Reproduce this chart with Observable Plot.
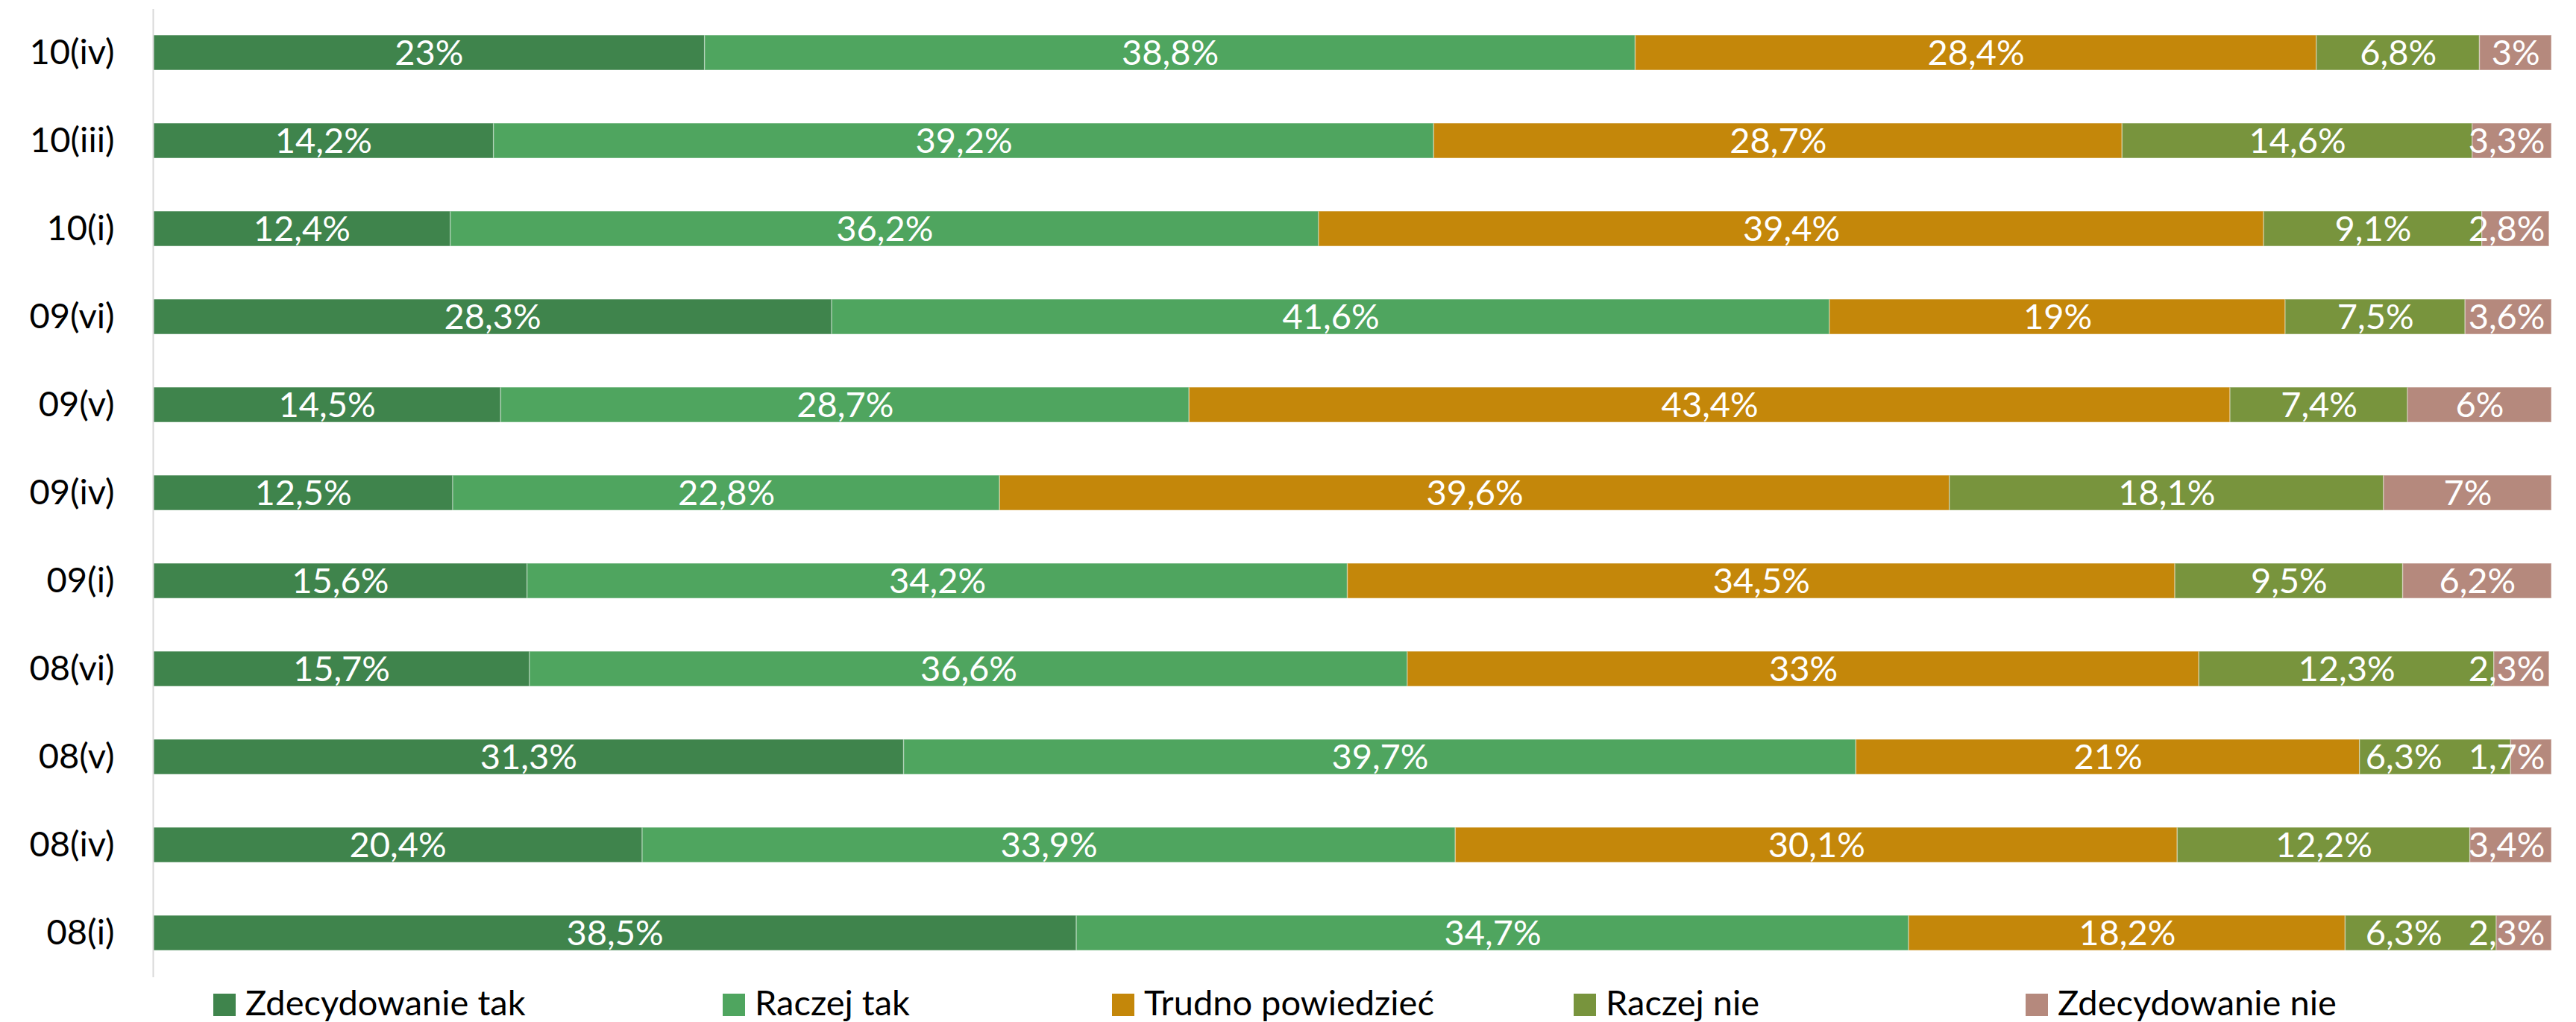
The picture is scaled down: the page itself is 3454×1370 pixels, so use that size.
<!DOCTYPE html>
<html>
<head>
<meta charset="utf-8">
<script src="https://cdn.jsdelivr.net/npm/d3@7"></script>
<script src="https://cdn.jsdelivr.net/npm/@observablehq/plot@0.6"></script>
<style>
  html, body { margin: 0; padding: 0; background: #fff; }
  body { position: relative; width: 3454px; height: 1370px; overflow: hidden; font-family: Lato, "Noto Sans", sans-serif; }
  #chart svg { display: block; }
  #legend { position: absolute; left: 0; top: 1320px; display: flex; align-items: flex-start; padding-left: 286px; font-size: 47px; line-height: 47px; color: #000; white-space: nowrap; }
  .item { display: flex; align-items: flex-start; }
  .sw { width: 30px; height: 30px; margin-top: 12px; margin-right: 13px; flex: none; }
</style>
</head>
<body>
<div id="chart"></div>
<div id="legend"></div>
<script>
// Periods (top to bottom)
const periods = ["10(iv)", "10(iii)", "10(i)", "09(vi)", "09(v)", "09(iv)", "09(i)", "08(vi)", "08(v)", "08(iv)", "08(i)"];
// Answer categories (left to right)
const categories = ["Zdecydowanie tak", "Raczej tak", "Trudno powiedzieć", "Raczej nie", "Zdecydowanie nie"];
const colors = ["#3f844c", "#4fa55f", "#c4870a", "#78943d", "#b5897d"];

// Series values (%), one per period
const zdecydowanieTak = [23, 14.2, 12.4, 28.3, 14.5, 12.5, 15.6, 15.7, 31.3, 20.4, 38.5];
const raczejTak       = [38.8, 39.2, 36.2, 41.6, 28.7, 22.8, 34.2, 36.6, 39.7, 33.9, 34.7];
const trudno          = [28.4, 28.7, 39.4, 19, 43.4, 39.6, 34.5, 33, 21, 30.1, 18.2];
const raczejNie       = [6.8, 14.6, 9.1, 7.5, 7.4, 18.1, 9.5, 12.3, 6.3, 12.2, 6.3];
const zdecydowanieNie = [3, 3.3, 2.8, 3.6, 6, 7, 6.2, 2.3, 1.7, 3.4, 2.3];

const series = [zdecydowanieTak, raczejTak, trudno, raczejNie, zdecydowanieNie];
const data = [];
periods.forEach((p, i) => {
  categories.forEach((c, j) => data.push({period: p, category: c, value: series[j][i]}));
});
const fmt = v => String(v).replace(".", ",") + "%";

// Layout constants
const W = 3454, H = 1312, ML = 205, MR = 33, FS = 47;
const FONT = "Lato, 'Noto Sans', sans-serif";
const pxPerUnit = (W - ML - MR) / 100;

// Label placement: centered in segment, kept inside the plot and not overlapping neighbours
const ctx = document.createElement("canvas").getContext("2d");
ctx.font = `${FS}px Lato`;
const labels = [];
periods.forEach(p => {
  const row = data.filter(d => d.period === p);
  let start = 0;
  const items = row.map(d => {
    const text = fmt(d.value);
    const w = ctx.measureText(text).width / pxPerUnit;
    const it = {period: p, text, x: start + d.value / 2, w};
    start += d.value;
    return it;
  });
  const edgePad = 9 / pxPerUnit, gap = 35 / pxPerUnit;
  items.forEach(it => { it.x = Math.min(it.x, 100 - edgePad - it.w / 2); });
  for (let i = items.length - 2; i >= 0; i--) {
    const lim = items[i + 1].x - items[i + 1].w / 2 - gap;
    if (items[i].x + items[i].w / 2 > lim) items[i].x = lim - items[i].w / 2;
  }
  labels.push(...items);
});

const chart = Plot.plot({
  width: W,
  height: H,
  marginTop: 12,
  marginBottom: 2,
  marginLeft: ML,
  marginRight: MR,
  style: {fontFamily: FONT, color: "#000", background: "#fff"},
  x: {domain: [0, 100], axis: null},
  y: {domain: periods, paddingInner: 0.6, paddingOuter: 0.3, label: null},
  color: {domain: categories, range: colors},
  marks: [
    Plot.barX(data, Plot.stackX({x: "value", y: "period", fill: "category", order: categories,
      stroke: "#ffffff", strokeOpacity: 0.35, strokeWidth: 1.5})),
    Plot.text(labels, {x: "x", y: "period", text: "text", fill: "white", fontSize: FS, dy: 1}),
    Plot.ruleX([0], {stroke: "#d9d9d9", strokeWidth: 2}),
    Plot.axisY({tickSize: 0, tickPadding: 52, fontSize: FS, fill: "#000", label: null})
  ]
});
document.getElementById("chart").appendChild(chart);

// Legend (HTML, below the SVG)
const itemWidths = [683, 522, 619, 606, 500];
const legend = document.getElementById("legend");
categories.forEach((c, j) => {
  const it = document.createElement("div");
  it.className = "item";
  it.style.width = itemWidths[j] + "px";
  const sw = document.createElement("div");
  sw.className = "sw";
  sw.style.background = colors[j];
  const tx = document.createElement("span");
  tx.textContent = c;
  it.appendChild(sw);
  it.appendChild(tx);
  legend.appendChild(it);
});
</script>
</body>
</html>
